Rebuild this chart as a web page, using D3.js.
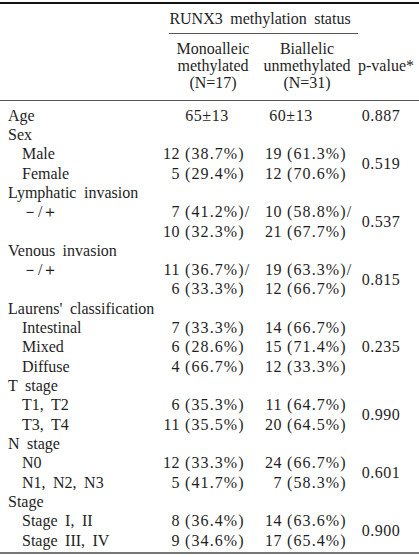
<!DOCTYPE html>
<html>
<head>
<meta charset="utf-8">
<script src="https://cdn.jsdelivr.net/npm/d3@7"></script>
<style>
  html, body { margin: 0; padding: 0; background: #fff; }
  svg text { font-family: "Liberation Serif", "DejaVu Serif", serif; font-size: 16px; fill: #1e1e1e; word-spacing: 3.5px; }
  svg text.num { letter-spacing: 0.5px; }
  svg text.pct { letter-spacing: 1.1px; }
</style>
</head>
<body>
<div id="chart"></div>
<script>
// ---- data ----
const groupTitle = "RUNX3 methylation status";
const colHeaders = [
  ["Monoalleic", "methylated", "(N=17)"],
  ["Biallelic", "unmethylated", "(N=31)"]
];
const pHeader = "p-value*";

const rowLabels = ["Age", "Sex", "Male", "Female", "Lymphatic invasion", "\uFF0D/\uFF0B", "",
  "Venous invasion", "\uFF0D/\uFF0B", "", "Laurens' classification", "Intestinal", "Mixed", "Diffuse",
  "T stage", "T1, T2", "T3, T4", "N stage", "N0", "N1, N2, N3", "Stage", "Stage I, II", "Stage III, IV"];
const rowIndent = [0, 0, 1, 1, 0, 1, 1, 0, 1, 1, 0, 1, 1, 1, 0, 1, 1, 0, 1, 1, 0, 1, 1];

const ageMono = "65\u00b113";
const ageBi = "60\u00b113";

const monoCount = [null, null, 12, 5, null, 7, 10, null, 11, 6, null, 7, 6, 4, null, 6, 11, null, 12, 5, null, 8, 9];
const monoPct   = [null, null, "38.7%", "29.4%", null, "41.2%", "32.3%", null, "36.7%", "33.3%", null,
  "33.3%", "28.6%", "66.7%", null, "35.3%", "35.5%", null, "33.3%", "41.7%", null, "36.4%", "34.6%"];
const biCount   = [null, null, 19, 12, null, 10, 21, null, 19, 12, null, 14, 15, 12, null, 11, 20, null, 24, 7, null, 14, 17];
const biPct     = [null, null, "61.3%", "70.6%", null, "58.8%", "67.7%", null, "63.3%", "66.7%", null,
  "66.7%", "71.4%", "33.3%", null, "64.7%", "64.5%", null, "66.7%", "58.3%", null, "63.6%", "65.4%"];
const slashRows = [5, 8];

const pValues    = ["0.887", "0.519", "0.537", "0.815", "0.235", "0.990", "0.601", "0.900"];
const pRowSpans  = [[0, 0], [2, 3], [5, 6], [8, 9], [11, 13], [15, 16], [18, 19], [21, 22]];

// ---- layout ----
const W = 419, H = 557;
const svg = d3.select("#chart").append("svg").attr("width", W).attr("height", H);

const y = d3.scalePoint().domain(d3.range(rowLabels.length)).range([115, 540]);
const x = {
  label: 8, indent: 22,
  monoNum: 180, monoPct: 185, monoCenter: 213,
  biNum: 282, biPct: 287, biCenter: 307,
  p: 381
};

// rules
svg.append("line").attr("x1", 0).attr("x2", W).attr("y1", 3).attr("y2", 3)
  .attr("stroke", "#111").attr("stroke-width", 2);
svg.append("line").attr("x1", 169).attr("x2", 358).attr("y1", 33.5).attr("y2", 33.5)
  .attr("stroke", "#555").attr("stroke-width", 1);
svg.append("line").attr("x1", 0).attr("x2", W).attr("y1", 100.5).attr("y2", 100.5)
  .attr("stroke", "#555").attr("stroke-width", 1);
svg.append("line").attr("x1", 0).attr("x2", W).attr("y1", 553).attr("y2", 553)
  .attr("stroke", "#777").attr("stroke-width", 2);

// header
svg.append("text").attr("x", 260).attr("y", 18).attr("dy", "0.35em")
  .attr("text-anchor", "middle").text(groupTitle);
const hy = d3.scalePoint().domain([0, 1, 2]).range([48, 82]);
[x.monoCenter, x.biCenter].forEach((cx, ci) => {
  svg.append("g").selectAll("text").data(colHeaders[ci]).join("text")
    .attr("x", cx).attr("y", (d, i) => hy(i)).attr("dy", "0.35em")
    .attr("text-anchor", "middle").text(d => d);
});
svg.append("text").attr("x", 386).attr("y", hy(1)).attr("dy", "0.35em")
  .attr("text-anchor", "middle").text(pHeader);

// row labels
svg.append("g").selectAll("text").data(rowLabels).join("text")
  .attr("x", (d, i) => rowIndent[i] ? x.indent : x.label)
  .attr("y", (d, i) => y(i)).attr("dy", "0.35em")
  .text(d => d);

// age row
svg.append("text").attr("class", "num").attr("x", 207).attr("y", y(0)).attr("dy", "0.35em").attr("text-anchor", "middle").text(ageMono);
svg.append("text").attr("class", "num").attr("x", 291).attr("y", y(0)).attr("dy", "0.35em").attr("text-anchor", "middle").text(ageBi);

// counts & percentages
function drawCol(counts, pcts, numX, pctX) {
  const g = svg.append("g");
  const idx = d3.range(counts.length).filter(i => counts[i] != null);
  g.selectAll("text.n").data(idx).join("text").attr("class", "n num")
    .attr("x", numX).attr("y", i => y(i)).attr("dy", "0.35em")
    .attr("text-anchor", "end").text(i => counts[i]);
  g.selectAll("text.pct").data(idx).join("text").attr("class", "pct")
    .attr("x", pctX).attr("y", i => y(i)).attr("dy", "0.35em")
    .text(i => "(" + pcts[i] + ")" + (slashRows.includes(i) ? "/" : ""));
}
drawCol(monoCount, monoPct, x.monoNum, x.monoPct);
drawCol(biCount, biPct, x.biNum, x.biPct);

// p-values
svg.append("g").selectAll("text").data(pValues).join("text").attr("class", "num")
  .attr("x", x.p).attr("y", (d, i) => (y(pRowSpans[i][0]) + y(pRowSpans[i][1])) / 2)
  .attr("dy", "0.35em").attr("text-anchor", "middle").text(d => d);
</script>
</body>
</html>
